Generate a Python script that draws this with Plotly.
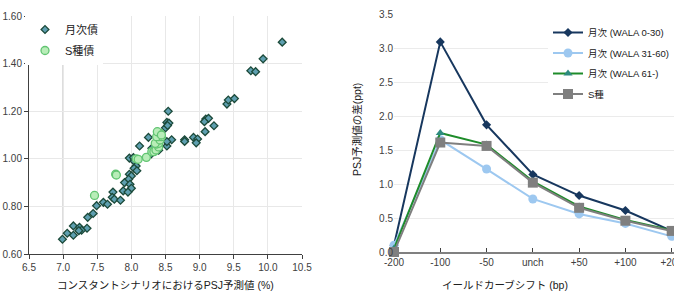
import plotly.graph_objects as go

# ---------------- Left chart data ----------------
monthly_x = [10.21, 9.93, 9.75, 9.82, 9.40, 9.42, 9.51,
             8.54, 9.09, 9.13, 9.07, 9.21, 9.08,
             8.52, 8.55, 8.50, 8.53,
             8.25, 8.12, 8.78, 8.78, 8.91, 8.97, 8.95, 8.59, 8.52, 8.52,
             8.30, 8.29, 8.40, 7.97, 8.03, 8.05, 8.04, 8.07, 8.04, 8.08, 7.97, 8.00, 7.96,
             7.90, 7.98, 8.00, 7.88, 7.95, 7.73, 7.72, 7.75, 7.84, 7.59, 7.65, 7.49,
             7.44, 7.36, 7.15, 7.24, 7.35, 7.27, 7.23, 7.06, 7.15, 6.99]
monthly_y = [1.49, 1.42, 1.37, 1.366, 1.23, 1.247, 1.253,
             1.20, 1.167, 1.17, 1.156, 1.139, 1.114,
             1.153, 1.15, 1.13, 1.14,
             1.09, 1.054, 1.08, 1.073, 1.09, 1.083, 1.067, 1.08, 1.054, 1.072,
             1.044, 1.02, 1.036, 1.003, 1.005, 0.996, 0.99, 0.97, 0.96, 0.95, 0.935, 0.928, 0.914,
             0.90, 0.893, 0.876, 0.865, 0.86, 0.86, 0.838, 0.83, 0.826, 0.817, 0.809, 0.803,
             0.77, 0.754, 0.718, 0.712, 0.708, 0.70, 0.698, 0.687, 0.679, 0.662]
s_x = [7.46, 7.77, 7.78, 8.07, 8.10, 8.22, 8.30, 8.33, 8.36, 8.40, 8.37, 8.40, 8.35,
       8.42, 8.40, 8.44, 8.37, 8.42, 8.38, 8.44]
s_y = [0.846, 0.935, 0.932, 1.00, 0.998, 1.006, 1.03, 1.03, 1.037, 1.05, 1.062, 1.065, 1.065,
       1.079, 1.093, 1.093, 1.093, 1.107, 1.114, 1.10]

# ---------------- Right chart data ----------------
shifts = ["-200", "-100", "-50", "unch", "+50", "+100", "+200"]
wala_0_30 = [0.10, 3.09, 1.87, 1.14, 0.83, 0.61, 0.31]
wala_31_60 = [0.10, 1.65, 1.22, 0.78, 0.56, 0.42, 0.23]
wala_61 = [0.05, 1.75, 1.58, 1.04, 0.67, 0.47, 0.32]
s_type = [0.00, 1.61, 1.56, 1.02, 0.65, 0.46, 0.31]

FONT = "Liberation Sans, Arial, Noto Sans CJK JP, sans-serif"
TICKC = "#404040"

fig = go.Figure()

fig.add_trace(go.Scatter(
    x=monthly_x, y=monthly_y, mode="markers", name="月次債", legendgroup="a",
    marker=dict(symbol="diamond", size=6, color="#5E9FB0",
                line=dict(color="#1C4A3A", width=1.3)),
    xaxis="x", yaxis="y", legend="legend"))
fig.add_trace(go.Scatter(
    x=s_x, y=s_y, mode="markers", name="S種債", legendgroup="b",
    marker=dict(symbol="circle", size=8, color="#B8EDB8",
                line=dict(color="#62C472", width=1.3)),
    xaxis="x", yaxis="y", legend="legend"))

fig.add_trace(go.Scatter(
    x=shifts, y=wala_0_30, mode="lines+markers", name="月次 (WALA 0-30)", legendgroup="c",
    line=dict(color="#17375E", width=2),
    marker=dict(symbol="diamond", size=7, color="#17375E"),
    xaxis="x2", yaxis="y2", legend="legend2", cliponaxis=False))
fig.add_trace(go.Scatter(
    x=shifts, y=wala_31_60, mode="lines+markers", name="月次 (WALA 31-60)", legendgroup="d",
    line=dict(color="#9DC8F0", width=2),
    marker=dict(symbol="circle", size=9, color="#9DC8F0"),
    xaxis="x2", yaxis="y2", legend="legend2", cliponaxis=False))
fig.add_trace(go.Scatter(
    x=shifts, y=wala_61, mode="lines+markers", name="月次 (WALA 61-)", legendgroup="e",
    line=dict(color="#1E8C2A", width=2),
    marker=dict(symbol="triangle-up", size=8, color="#2E8B80"),
    xaxis="x2", yaxis="y2", legend="legend2", cliponaxis=False))
fig.add_trace(go.Scatter(
    x=shifts, y=s_type, mode="lines+markers", name="S種", legendgroup="f",
    line=dict(color="#7F7F7F", width=2),
    marker=dict(symbol="square", size=10, color="#7F7F7F"),
    xaxis="x2", yaxis="y2", legend="legend2", cliponaxis=False))

W, H = 674, 299
fig.update_layout(
    width=W, height=H, autosize=False,
    margin=dict(l=0, r=0, t=0, b=0, pad=0),
    paper_bgcolor="white", plot_bgcolor="white",
    font=dict(family=FONT, size=10, color=TICKC),
    xaxis=dict(domain=[29 / W, 302 / W], range=[6.5, 10.5], dtick=0.5, tick0=6.5,
               tickformat=".1f", showgrid=True, gridcolor="#E8E8E8", gridwidth=1,
               showline=True, linecolor="#404040", linewidth=1,
               ticks="outside", ticklen=4, tickcolor="#404040",
               zeroline=False, automargin=False, anchor="y",
               tickfont=dict(size=10, color=TICKC, family=FONT)),
    yaxis=dict(domain=[1 - 254 / H, 1 - 16 / H], range=[0.6, 1.6], dtick=0.2, tick0=0.6,
               tickformat=".2f", showgrid=True, gridcolor="#E8E8E8", gridwidth=1,
               showline=True, linecolor="#404040", linewidth=1,
               ticks="outside", ticklen=4, tickcolor="#404040",
               zeroline=False, automargin=False, anchor="x",
               tickfont=dict(size=10, color=TICKC, family=FONT)),
    xaxis2=dict(domain=[394 / W, 1.0], type="category", range=[0, 6.05],
                showgrid=False, showline=True, linecolor="#808080", linewidth=2,
                ticks="inside", ticklen=4, tickcolor="#404040",
                zeroline=False, automargin=False, anchor="y2",
                tickfont=dict(size=10, color=TICKC, family=FONT)),
    yaxis2=dict(domain=[1 - 252 / H, 1 - 14 / H], range=[0, 3.5], dtick=0.5, tick0=0,
                tickformat=".1f", showgrid=True, gridcolor="#EBEBEB", gridwidth=1,
                showline=False, ticks="", zeroline=False, automargin=False, anchor="x2",
                tickfont=dict(size=10, color=TICKC, family=FONT)),
    legend=dict(x=25 / W, y=1 - 15 / H, xanchor="left", yanchor="top",
                bgcolor="white", font=dict(size=11, color="#202020", family=FONT),
                traceorder="grouped", tracegroupgap=2, itemwidth=30, borderwidth=0),
    legend2=dict(x=1.0, y=1 - 18 / H, xanchor="right", yanchor="top",
                 bgcolor="white", font=dict(size=9.5, color="#202020", family=FONT),
                 traceorder="grouped", tracegroupgap=1.5, itemwidth=30, borderwidth=0),
    showlegend=True,
)

fig.add_shape(type="line", xref="x", yref="y", x0=7.0, x1=7.0, y0=0.6, y1=1.41,
              line=dict(color="#C8C8C8", width=1.5), layer="below")

fig.add_annotation(text="コンスタントシナリオにおけるPSJ予測値 (%)", xref="paper", yref="paper",
                   x=165 / W, y=1 - 285 / H, showarrow=False, xanchor="center", yanchor="middle",
                   font=dict(size=10.5, color="#202020", family=FONT))
fig.add_annotation(text="イールドカーブシフト (bp)", xref="paper", yref="paper",
                   x=505 / W, y=1 - 285 / H, showarrow=False, xanchor="center", yanchor="middle",
                   font=dict(size=10.5, color="#202020", family=FONT))
fig.add_annotation(text="PSJ予測値の差(ppt)", xref="paper", yref="paper",
                   x=357 / W, y=1 - 130 / H, showarrow=False, textangle=-90,
                   xanchor="center", yanchor="middle",
                   font=dict(size=10.5, color="#202020", family=FONT))

fig.write_html("out.html", config={"responsive": False})
